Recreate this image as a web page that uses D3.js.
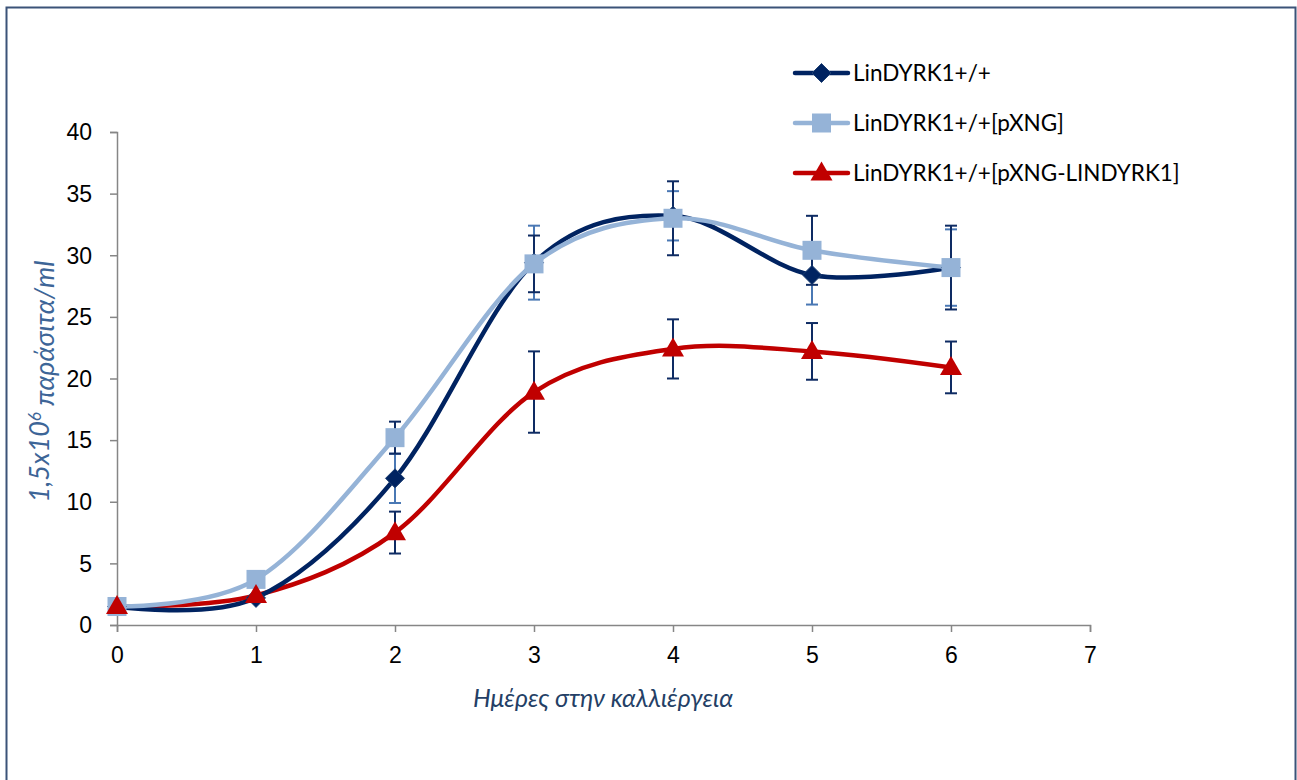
<!DOCTYPE html>
<html>
<head>
<meta charset="utf-8">
<script src="https://cdn.jsdelivr.net/npm/d3@7"></script>
<style>
  html, body { margin: 0; padding: 0; background: #fff; }
  svg { display: block; font-family: Lato, "Open Sans", sans-serif; }
</style>
</head>
<body>
<svg id="chart" width="1297" height="780"></svg>
<script>
// Days in culture
const days = [0, 1, 2, 3, 4, 5, 6];

// Parasite counts (x1.5·10^6 /ml) per strain
const seriesNames = ["LinDYRK1+/+", "LinDYRK1+/+[pXNG]", "LinDYRK1+/+[pXNG-LINDYRK1]"];
const wildType   = [1.5, 2.2, 11.9, 29.4, 33.2, 28.4, 29.0];
const emptyVec   = [1.5, 3.7, 15.2, 29.3, 33.0, 30.4, 29.0];
const rescue     = [1.5, 2.4, 7.5, 18.9, 22.4, 22.2, 20.9];

// Error bar half-widths
const wildTypeErr = [0, 0, 2.0, 3.0, 2.0, 2.4, 3.1];
const emptyVecErr = [0, 0, 1.3, 2.3, 3.0, 2.8, 3.4];
const rescueErr   = [0, 0, 1.7, 3.3, 2.4, 2.3, 2.1];

const yTicks = [0, 5, 10, 15, 20, 25, 30, 35, 40];
const xTicks = [0, 1, 2, 3, 4, 5, 6, 7];

const series = [
  { name: seriesNames[0], values: wildType, err: wildTypeErr, color: "#002361", errColor: "#4a78b4", marker: "diamond" },
  { name: seriesNames[1], values: emptyVec, err: emptyVecErr, color: "#95b3d7", errColor: "#0e2b63", marker: "square" },
  { name: seriesNames[2], values: rescue,   err: rescueErr,   color: "#c00000", errColor: "#0e2b63", marker: "triangle" }
];

const svg = d3.select("#chart");

// outer frame
svg.append("rect")
  .attr("x", 6.5).attr("y", 7.5)
  .attr("width", 1289).attr("height", 790)
  .attr("fill", "none")
  .attr("stroke", "#3b5378")
  .attr("stroke-width", 2);

const x = d3.scaleLinear().domain([0, 7]).range([117, 1090]);
const y = d3.scaleLinear().domain([0, 40]).range([625, 132]);

const axisColor = "#868686";

// y axis
const yAxis = svg.append("g")
  .attr("transform", `translate(${x(0)},0)`)
  .call(d3.axisLeft(y).tickValues(yTicks).tickSize(7).tickPadding(18).tickFormat(d3.format("d")));
// x axis
const xAxis = svg.append("g")
  .attr("transform", `translate(0,${y(0)})`)
  .call(d3.axisBottom(x).tickValues(xTicks).tickSize(7).tickPadding(15).tickFormat(d3.format("d")));

[yAxis, xAxis].forEach(g => {
  g.select(".domain").attr("stroke", axisColor).attr("stroke-width", 1.5);
  g.selectAll(".tick line").attr("stroke", axisColor).attr("stroke-width", 1.5);
  g.selectAll(".tick text").attr("fill", "#000").style("font-size", "23px");
});
yAxis.selectAll(".tick text").attr("dy", "0.34em");

// axis titles
const yTitle = svg.append("text")
  .attr("transform", `translate(49,${(y(0) + y(40)) / 2 + 3}) rotate(-90)`)
  .attr("text-anchor", "middle")
  .attr("fill", "#3d6597")
  .style("font-size", "27px")
  .style("font-style", "italic");
yTitle.append("tspan").text("1,5x10");
yTitle.append("tspan").attr("dy", "-0.45em").style("font-size", "17px").text("6");
yTitle.append("tspan").attr("dy", "0.45em").text(" παράσιτα/ml");

svg.append("text")
  .attr("x", 603).attr("y", 707)
  .attr("text-anchor", "middle")
  .attr("fill", "#243f66")
  .style("font-size", "25px")
  .style("font-style", "italic")
  .text("Ημέρες στην καλλιέργεια");

// smoothed lines
const line = d3.line()
  .x((d, i) => x(days[i]))
  .y(d => y(d))
  .curve(d3.curveCardinal.tension(0));

function drawMarker(g, type, cx, cy, color) {
  if (type === "diamond") {
    const r = 9.5;
    g.append("path")
      .attr("d", `M${cx},${cy - r}L${cx + r},${cy}L${cx},${cy + r}L${cx - r},${cy}Z`)
      .attr("fill", color).attr("stroke", "#1d3f72").attr("stroke-width", 1);
  } else if (type === "square") {
    const s = 19;
    g.append("rect")
      .attr("x", cx - s / 2).attr("y", cy - s / 2)
      .attr("width", s).attr("height", s)
      .attr("fill", color);
  } else {
    const h = 19, w = 22;
    g.append("path")
      .attr("d", `M${cx},${cy - h * 0.6}L${cx + w / 2},${cy + h * 0.4}L${cx - w / 2},${cy + h * 0.4}Z`)
      .attr("fill", color);
  }
}

// error bars drawn first, under lines
series.forEach(s => {
  const g = svg.append("g");
  s.values.forEach((v, i) => {
    if (!s.err[i]) return;
    const cx = x(days[i]);
    const top = y(v + s.err[i]), bot = y(v - s.err[i]);
    g.append("line").attr("x1", cx).attr("x2", cx).attr("y1", top).attr("y2", bot)
      .attr("stroke", s.errColor).attr("stroke-width", 2);
    [top, bot].forEach(yy => g.append("line")
      .attr("x1", cx - 6).attr("x2", cx + 6).attr("y1", yy).attr("y2", yy)
      .attr("stroke", s.errColor).attr("stroke-width", 2));
  });
});

// lines, red first so the blue ones sit on top
[series[2], series[0], series[1]].forEach(s => {
  svg.append("path")
    .datum(s.values)
    .attr("d", line)
    .attr("fill", "none")
    .attr("stroke", s.color)
    .attr("stroke-width", 4.5)
    .attr("stroke-linejoin", "round");
});
series.forEach(s => {
  const g = svg.append("g");
  s.values.forEach((v, i) => drawMarker(g, s.marker, x(days[i]), y(v), s.color));
});

// legend
const legend = svg.append("g");
series.forEach((s, i) => {
  const ly = 73 + i * 50;
  const g = legend.append("g");
  g.append("line").attr("x1", 795).attr("x2", 848).attr("y1", ly).attr("y2", ly)
    .attr("stroke", s.color).attr("stroke-width", 4.5).attr("stroke-linecap", "round");
  drawMarker(g, s.marker, 821.5, ly, s.color);
  g.append("text").attr("x", 853).attr("y", ly).attr("dy", "0.35em")
    .attr("fill", "#000").style("font-size", "22.5px").text(s.name);
});
</script>
</body>
</html>
